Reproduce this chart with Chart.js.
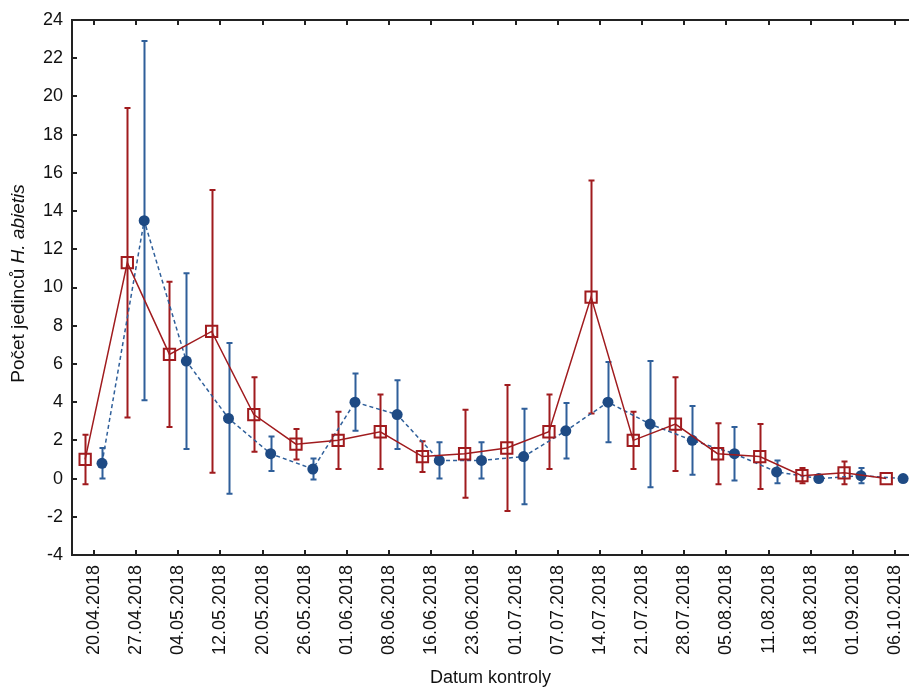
<!DOCTYPE html>
<html>
<head>
<meta charset="utf-8">
<title>Počet jedinců H. abietis</title>
<script src="https://cdn.jsdelivr.net/npm/chart.js@4.4.0/dist/chart.umd.min.js"></script>
<style>
  html, body { margin: 0; padding: 0; background: #fff; overflow: hidden; }
  /* canvas runs a bit past the right window edge so the plot reaches it */
  #wrap { width: 919px; height: 689px; position: relative; }
</style>
</head>
<body>
<div id="wrap"><canvas id="chart"></canvas></div>
<script>
// control dates (x categories)
const dates = [
  '20.04.2018', '27.04.2018', '04.05.2018', '12.05.2018', '20.05.2018',
  '26.05.2018', '01.06.2018', '08.06.2018', '16.06.2018', '23.06.2018',
  '01.07.2018', '07.07.2018', '14.07.2018', '21.07.2018', '28.07.2018',
  '05.08.2018', '11.08.2018', '18.08.2018', '01.09.2018', '06.10.2018'
];

// red series: mean and error (half-width of the bar)
const redMean = [1.0, 11.3, 6.5, 7.7, 3.35, 1.8, 2.0, 2.45, 1.15, 1.3, 1.6, 2.45, 9.5, 2.0, 2.85, 1.3, 1.15, 0.15, 0.3, 0.0];
const redErr  = [1.3, 8.1, 3.8, 7.4, 1.95, 0.8, 1.5, 1.95, 0.8, 2.3, 3.3, 1.95, 6.1, 1.5, 2.45, 1.6, 1.7, 0.4, 0.6, 0];

// blue series: mean and error
const blueMean = [0.8, 13.5, 6.15, 3.15, 1.3, 0.5, 4.0, 3.35, 0.95, 0.95, 1.15, 2.5, 4.0, 2.85, 2.0, 1.3, 0.35, 0.0, 0.15, 0.0];
const blueErr  = [0.8, 9.4, 4.6, 3.95, 0.9, 0.55, 1.5, 1.8, 0.95, 0.95, 2.5, 1.45, 2.1, 3.3, 1.8, 1.4, 0.6, 0, 0.4, 0];

// y axis range
const yMin = -4, yMax = 24, yStep = 2;

const RED = '#a01b1e';
const BLUE_LINE = '#2f5f9a';
const BLUE_DOT = '#1e4a84';
const FONT = 'Liberation Sans, Arial, sans-serif';

// the two series sit a little left / right of each date
const redShift = -0.21, blueShift = 0.19;

const errorBars = {
  id: 'errorBars',
  beforeDatasetsDraw(chart) {
    const {ctx, scales: {x, y}} = chart;
    ctx.save();
    chart.data.datasets.forEach(ds => {
      ctx.strokeStyle = ds.barColor;
      ctx.lineWidth = 2;
      ds.data.forEach((p, i) => {
        const e = ds.errors[i];
        if (!e) return;
        const px = Math.round(x.getPixelForValue(p.x)) + 0.5;
        const top = y.getPixelForValue(p.y + e);
        const bot = y.getPixelForValue(p.y - e);
        ctx.beginPath();
        ctx.moveTo(px, top); ctx.lineTo(px, bot);
        ctx.moveTo(px - 3, top); ctx.lineTo(px + 3, top);
        ctx.moveTo(px - 3, bot); ctx.lineTo(px + 3, bot);
        ctx.stroke();
      });
    });
    ctx.restore();
  }
};

// frame on top, inward tick marks and the mixed-style y title
const frame = {
  id: 'frame',
  afterDraw(chart) {
    const {ctx, chartArea: a, scales: {x, y}} = chart;
    ctx.save();
    ctx.strokeStyle = '#222';
    ctx.lineWidth = 2;
    ctx.beginPath();
    ctx.moveTo(a.left, a.top); ctx.lineTo(a.right, a.top);
    y.ticks.forEach(t => {
      const py = Math.round(y.getPixelForValue(t.value));
      ctx.moveTo(a.left, py); ctx.lineTo(a.left + 5, py);
    });
    x.ticks.forEach(t => {
      const px = Math.round(x.getPixelForValue(t.value));
      ctx.moveTo(px, a.bottom); ctx.lineTo(px, a.bottom - 5);
      ctx.moveTo(px, a.top); ctx.lineTo(px, a.top + 5);
    });
    ctx.stroke();

    // "Počet jedinců H. abietis", species name in italics
    const plain = 'Počet jedinců ';
    const ital = 'H. abietis';
    const size = 19;
    ctx.fillStyle = '#111';
    ctx.textBaseline = 'middle';
    ctx.translate(19, (a.top + a.bottom) / 2 - 4);
    ctx.rotate(-Math.PI / 2);
    ctx.font = size + 'px ' + FONT;
    const w1 = ctx.measureText(plain).width;
    ctx.font = 'italic ' + size + 'px ' + FONT;
    const w2 = ctx.measureText(ital).width;
    const start = -(w1 + w2) / 2;
    ctx.font = size + 'px ' + FONT;
    ctx.fillText(plain, start, 0);
    ctx.font = 'italic ' + size + 'px ' + FONT;
    ctx.fillText(ital, start + w1, 0);
    ctx.restore();
  }
};

new Chart(document.getElementById('chart'), {
  type: 'line',
  data: {
    datasets: [
      {
        label: 'red',
        data: redMean.map((v, i) => ({x: i + redShift, y: v})),
        errors: redErr,
        barColor: RED,
        borderColor: RED,
        borderWidth: 1.5,
        pointStyle: 'rect',
        pointRadius: 8,
        pointBorderWidth: 2,
        pointBorderColor: RED,
        pointBackgroundColor: 'rgba(0,0,0,0)',
        tension: 0
      },
      {
        label: 'blue',
        data: blueMean.map((v, i) => ({x: i + blueShift, y: v})),
        errors: blueErr,
        barColor: BLUE_LINE,
        borderColor: BLUE_LINE,
        borderWidth: 1.5,
        borderDash: [4, 3],
        pointStyle: 'circle',
        pointRadius: 5.5,
        pointBorderWidth: 0,
        pointBackgroundColor: BLUE_DOT,
        tension: 0
      }
    ]
  },
  options: {
    responsive: true,
    maintainAspectRatio: false,
    animation: false,
    clip: false,
    layout: {padding: {top: 20, right: 0, bottom: 0, left: 0}},
    plugins: {legend: {display: false}, tooltip: {enabled: false}},
    scales: {
      x: {
        type: 'linear',
        min: -0.522,
        max: 19.33,
        afterBuildTicks: s => { s.ticks = dates.map((d, i) => ({value: i})); },
        afterFit: s => { s.height = 134; s.paddingLeft = 0; s.paddingRight = 0; },
        grid: {display: false, drawTicks: false},
        border: {display: true, color: '#222', width: 2},
        ticks: {
          autoSkip: false,
          minRotation: 90,
          maxRotation: 90,
          padding: 10,
          color: '#111',
          font: {family: FONT, size: 18},
          callback: v => dates[v]
        },
        title: {
          display: true,
          text: 'Datum kontroly',
          color: '#111',
          padding: {top: 0, bottom: 0},
          font: {family: FONT, size: 18}
        }
      },
      y: {
        min: yMin,
        max: yMax,
        afterFit: s => { s.width = 72; s.paddingTop = 0; s.paddingBottom = 0; },
        grid: {display: false, drawTicks: false},
        border: {display: true, color: '#222', width: 2},
        ticks: {
          stepSize: yStep,
          padding: 9,
          color: '#111',
          font: {family: FONT, size: 18}
        }
      }
    }
  },
  plugins: [errorBars, frame]
});
</script>
</body>
</html>
